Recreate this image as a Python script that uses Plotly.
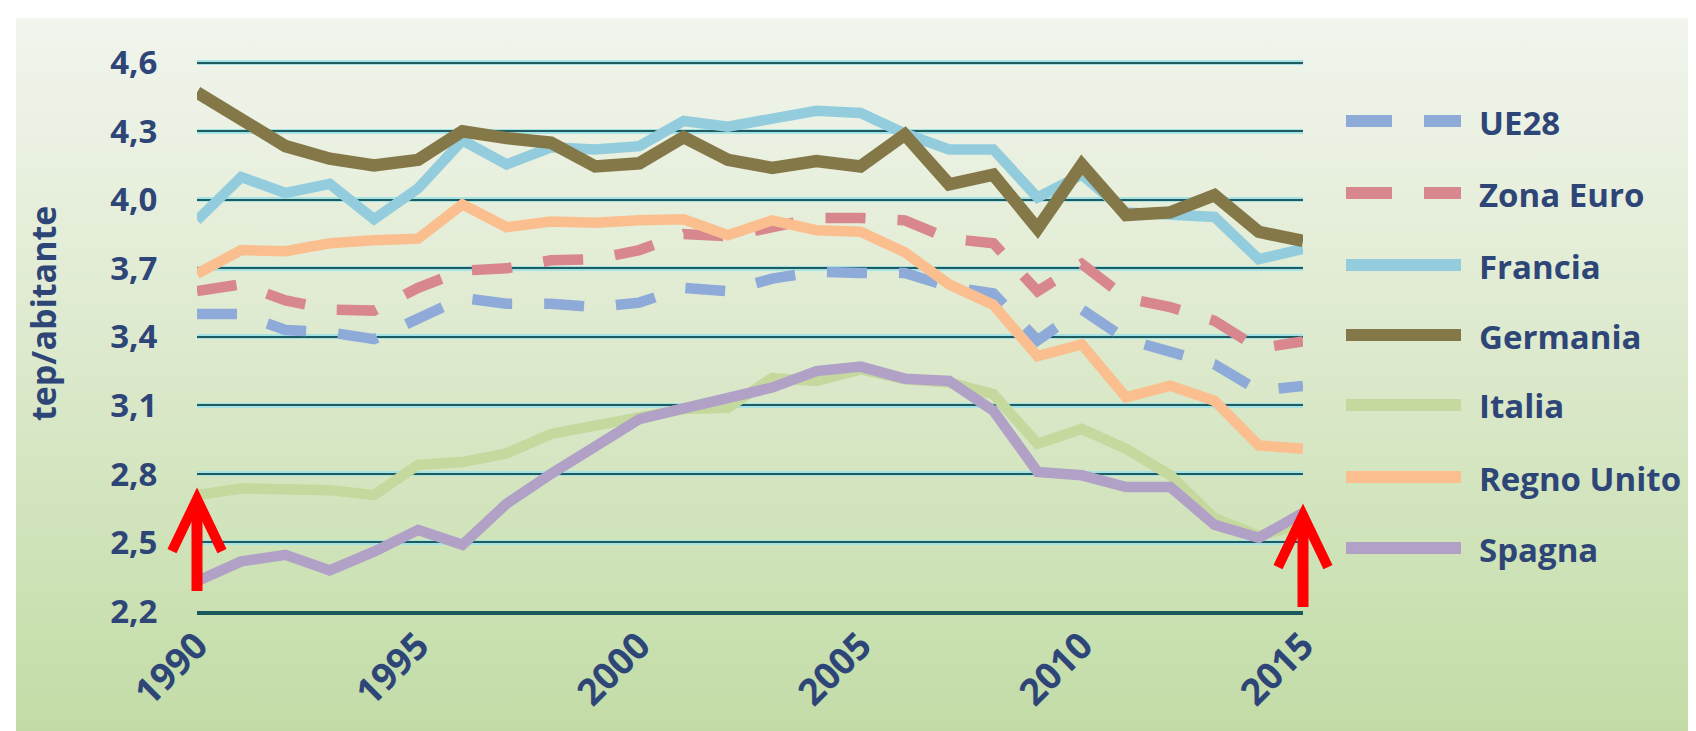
import base64
import plotly.graph_objects as go

# ---------------- data ----------------
years = list(range(1990, 2016))
x_tick_vals = [1990, 1995, 2000, 2005, 2010, 2015]
x_tick_text = ["1990", "1995", "2000", "2005", "2010", "2015"]
y_tick_vals = [2.2, 2.5, 2.8, 3.1, 3.4, 3.7, 4.0, 4.3, 4.6]
y_tick_text = ["2,2", "2,5", "2,8", "3,1", "3,4", "3,7", "4,0", "4,3", "4,6"]

series_names = ["UE28", "Zona Euro", "Francia", "Germania", "Italia", "Regno Unito", "Spagna"]

ue28 = [3.50, 3.50, 3.43, 3.42, 3.39, 3.48, 3.57, 3.545, 3.545, 3.53, 3.55, 3.615, 3.60,
        3.655, 3.685, 3.68, 3.68, 3.62, 3.59, 3.385, 3.52, 3.39, 3.33, 3.28, 3.165, 3.185]
zona_euro = [3.60, 3.63, 3.56, 3.52, 3.515, 3.615, 3.69, 3.70, 3.735, 3.74, 3.78, 3.85, 3.84,
             3.88, 3.92, 3.92, 3.91, 3.83, 3.81, 3.60, 3.72, 3.57, 3.53, 3.47, 3.35, 3.38]
francia = [3.91, 4.10, 4.03, 4.07, 3.915, 4.05, 4.26, 4.155, 4.23, 4.22, 4.235, 4.345, 4.32,
           4.36, 4.39, 4.38, 4.29, 4.22, 4.22, 4.01, 4.11, 3.945, 3.935, 3.925, 3.74, 3.785]
germania = [4.47, 4.36, 4.235, 4.18, 4.15, 4.175, 4.30, 4.27, 4.25, 4.146, 4.16, 4.274, 4.175,
            4.14, 4.17, 4.146, 4.285, 4.068, 4.11, 3.874, 4.154, 3.933, 3.945, 4.02, 3.86, 3.82]
italia = [2.707, 2.736, 2.733, 2.729, 2.707, 2.84, 2.852, 2.89, 2.975, 3.01, 3.055, 3.084, 3.09,
          3.22, 3.207, 3.258, 3.214, 3.20, 3.149, 2.932, 2.997, 2.91, 2.794, 2.606, 2.53, 2.58]
regno_unito = [3.676, 3.78, 3.775, 3.81, 3.823, 3.83, 3.98, 3.88, 3.905, 3.90, 3.91, 3.915, 3.845,
               3.91, 3.867, 3.86, 3.77, 3.63, 3.54, 3.316, 3.367, 3.135, 3.186, 3.12, 2.925, 2.91]
spagna = [2.33, 2.417, 2.446, 2.378, 2.46, 2.555, 2.49, 2.67, 2.80, 2.925, 3.04, 3.087, 3.128,
          3.178, 3.25, 3.27, 3.217, 3.207, 3.077, 2.809, 2.794, 2.743, 2.743, 2.577, 2.52, 2.63]

series_values = [ue28, zona_euro, francia, germania, italia, regno_unito, spagna]

# arrows: (year, value of tip)
arrow_points = [(1990, 2.69), (2015, 2.62)]

# ---------------- style ----------------
colors = ["#8eaad9", "#d9878e", "#93cddd", "#857848", "#c5d89d", "#fbbf8f", "#b2a1c7"]
dashed = [True, True, False, False, False, False, False]
widths = [10.5, 10.5, 10.5, 12.5, 10.5, 10.5, 10.5]
DASH = "40px,32px"
TXT = "#2e4677"
FONT = "Open Sans"

W, H = 1696, 731
X0, X1 = 1990, 2015
Y0, Y1 = 2.2, 4.612
PX_PER_UNIT = 228.3
L, R = 189, 401
B = 128
T = int(round(H - B - (Y1 - Y0) * PX_PER_UNIT))
PW, PH = W - L - R, H - T - B


def px_x(px):
    return (px - L) / PW


def px_y(py):
    return (T + PH - py) / PH


def data_px(xv, yv):
    return L + (xv - X0) / (X1 - X0) * PW, T + (Y1 - yv) / (Y1 - Y0) * PH


fig = go.Figure()
for name, vals, c, d, w in zip(series_names, series_values, colors, dashed, widths):
    fig.add_trace(go.Scatter(
        x=years, y=vals, name=name, mode="lines",
        line=dict(color=c, width=w, dash=DASH if d else "solid"),
        showlegend=False,
    ))
# transparent copy on the overlay axis so its (dark) grid is drawn
fig.add_trace(go.Scatter(x=years, y=spagna, yaxis="y2", mode="lines", opacity=0,
                         line=dict(width=0), hoverinfo="skip", showlegend=False))

# background gradient as an svg image
svg = f'''<svg xmlns="http://www.w3.org/2000/svg" width="{W}" height="{H}">
<defs><linearGradient id="g" x1="0" y1="0" x2="0" y2="1">
<stop offset="0" stop-color="#f1f5ee"/>
<stop offset="0.25" stop-color="#e7efdc"/>
<stop offset="0.55" stop-color="#d8e7c6"/>
<stop offset="0.8" stop-color="#cbe1b3"/>
<stop offset="1" stop-color="#c1dba5"/>
</linearGradient></defs>
<rect x="0" y="0" width="{W}" height="{H}" fill="#ffffff"/>
<rect x="8" y="10" width="{W}" height="{H}" fill="url(#g)"/>
</svg>'''
src = "data:image/svg+xml;base64," + base64.b64encode(svg.encode()).decode()

shapes = []
annotations = []

# legend (drawn manually to match long samples)
leg_y = [113, 185, 257, 327, 397, 469, 540]
for name, c, d, w, py in zip(series_names, colors, dashed, widths, leg_y):
    shapes.append(dict(type="line", xref="paper", yref="paper",
                       x0=px_x(1338), x1=px_x(1453), y0=px_y(py), y1=px_y(py),
                       line=dict(color=c, width=12, dash="46px,32px" if d else "solid")))
    annotations.append(dict(text=name, xref="paper", yref="paper", x=px_x(1469), y=px_y(py + 1),
                            xanchor="left", yanchor="middle", showarrow=False,
                            font=dict(family=FONT, size=33, color=TXT, weight="bold")))

# axis title
annotations.append(dict(text="tep/abitante", xref="paper", yref="paper", x=px_x(35), y=px_y(306),
                        textangle=-90, xanchor="center", yanchor="middle", showarrow=False,
                        font=dict(family=FONT, size=34, color=TXT, weight="bold")))

# red arrows
for xv, yv in arrow_points:
    tx, ty = data_px(xv, yv)
    shaft_len, arm_dx, arm_dy = 92, 25, 52
    shapes.append(dict(type="path", xref="paper", yref="paper",
                       path=f"M {px_x(tx)},{px_y(ty + shaft_len)} L {px_x(tx)},{px_y(ty + 4)}",
                       line=dict(color="#ff0000", width=11)))
    shapes.append(dict(type="path", xref="paper", yref="paper",
                       path=(f"M {px_x(tx - arm_dx)},{px_y(ty + arm_dy)} L {px_x(tx)},{px_y(ty)} "
                             f"L {px_x(tx + arm_dx)},{px_y(ty + arm_dy)}"),
                       line=dict(color="#ff0000", width=10)))

tickfont = dict(family=FONT, size=33, color=TXT, weight="bold")

fig.update_layout(
    width=W, height=H,
    margin=dict(l=L, r=R, t=T, b=B),
    paper_bgcolor="#ffffff",
    plot_bgcolor="rgba(0,0,0,0)",
    images=[dict(source=src, xref="paper", yref="paper", x=px_x(0), y=px_y(0),
                 sizex=W / PW, sizey=H / PH, sizing="stretch", xanchor="left", yanchor="top",
                 layer="below")],
    xaxis=dict(range=[X0, X1], tickvals=x_tick_vals, ticktext=x_tick_text, tickangle=-45,
               tickfont=dict(family=FONT, size=37, color=TXT, weight="bold"),
               showgrid=False, zeroline=False, showline=True,
               linecolor="#1b585c", linewidth=4, ticks="", ticklabelstandoff=-6),
    yaxis=dict(range=[Y0, Y1], tickvals=y_tick_vals, ticktext=y_tick_text, tickfont=tickfont,
               showgrid=True, gridcolor="#a6e3e6", gridwidth=5, zeroline=False, showline=False,
               ticks="outside", ticklen=32, tickcolor="rgba(0,0,0,0)"),
    yaxis2=dict(range=[Y0, Y1], tickvals=y_tick_vals, overlaying="y", side="left",
                showticklabels=False, showgrid=True, gridcolor="#1e5c60", gridwidth=2,
                zeroline=False, showline=False),
    shapes=shapes,
    annotations=annotations,
)

fig.write_html("out.html")
